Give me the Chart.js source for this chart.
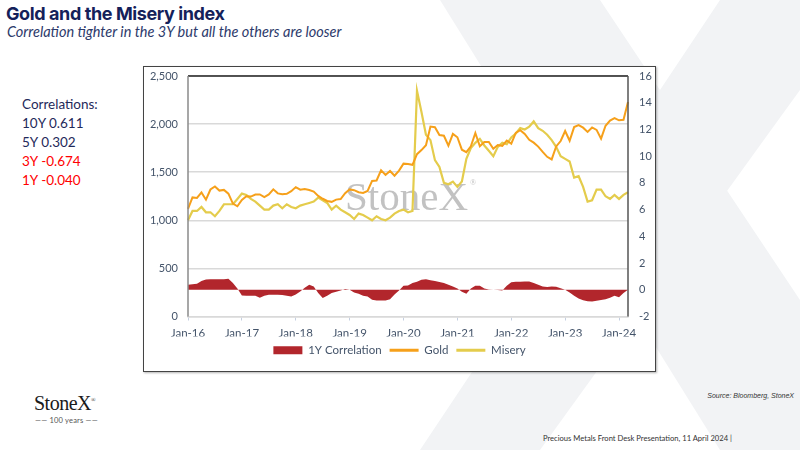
<!DOCTYPE html>
<html>
<head>
<meta charset="utf-8">
<script src="https://cdn.jsdelivr.net/npm/chart.js@4.4.0/dist/chart.umd.min.js"></script>
<title>Gold and the Misery index</title>
<style>
  body { margin: 0; width: 800px; height: 450px; background: #fff; position: relative; overflow: hidden; font-family: Lato, sans-serif; }
  #bg { position: absolute; left: 0; top: 0; }
  .abs { position: absolute; white-space: nowrap; }
  #title { left: 6px; top: 3px; font: bold 18px Inter, sans-serif; color: #14215a; letter-spacing: -0.4px; }
  #sub { left: 7px; top: 23px; font: italic 14.5px Lato, sans-serif; color: #2d3a6b; }
  #corr { left: 22px; top: 95px; font: 13.5px Lato, sans-serif; color: #1f2a5a; line-height: 19px; }
  .red { color: #ff0000; }
  #frame { position: absolute; left: 143px; top: 66px; width: 511px; height: 304px; border: 1.5px solid #444; background: #fff; box-shadow: 1px 1px 2px rgba(0,0,0,0.3); }
  #logo { left: 34px; top: 392px; font: 20px "Liberation Serif", serif; color: #1a1a1a; letter-spacing: -0.5px; }
  #years { left: 35px; top: 416px; font: 7.5px Lato, sans-serif; color: #555; letter-spacing: 0.2px; }
  #src { right: 6px; top: 392px; font: italic 7px "Liberation Sans", sans-serif; color: #333; }
  #foot { left: 543px; top: 433px; font: 7.6px Lato, sans-serif; color: #333; }
</style>
</head>
<body>
<svg id="bg" width="800" height="450">
  <polygon points="440,0 600,0 800,300 800,450 720,450" fill="#f2f3f5"/>
  <polygon points="720,0 800,0 800,90 540,450 420,450" fill="#f2f3f5"/>
</svg>
<div class="abs" id="title">Gold and the Misery index</div>
<div class="abs" id="sub">Correlation tighter in the 3Y but all the others are looser</div>
<div class="abs" id="corr">
  Correlations:<br>
  10Y 0.611<br>
  5Y 0.302<br>
  <span class="red">3Y -0.674</span><br>
  <span class="red">1Y -0.040</span>
</div>
<div id="frame"><canvas id="chart" width="511" height="304"></canvas></div>
<div class="abs" id="logo">StoneX<sup style="font-size:6px">®</sup></div>
<div class="abs" id="years">—— 100 years ——</div>
<div class="abs" id="src">Source: Bloomberg, StoneX</div>
<div class="abs" id="foot">Precious Metals Front Desk Presentation, 11 April 2024 |</div>
<script>
// monthly, Jan-16 .. Mar-24
const years = ['16', '17', '18', '19', '20', '21', '22', '23', '24'];
const monthNames = ['Jan', 'Feb', 'Mar', 'Apr', 'May', 'Jun', 'Jul', 'Aug', 'Sep', 'Oct', 'Nov', 'Dec'];

const gold = [
  1118, 1238, 1233, 1290, 1214, 1320, 1351, 1309, 1316, 1277, 1173, 1146,
  1211, 1249, 1247, 1268, 1269, 1242, 1269, 1322, 1280, 1271, 1275, 1303,
  1345, 1318, 1325, 1315, 1299, 1253, 1224, 1201, 1192, 1215, 1221, 1282,
  1321, 1313, 1292, 1284, 1305, 1409, 1414, 1520, 1472, 1513, 1464, 1517,
  1589, 1585, 1577, 1687, 1730, 1781, 1975, 1968, 1887, 1879, 1776, 1898,
  1863, 1734, 1708, 1769, 1907, 1770, 1814, 1814, 1743, 1783, 1774, 1829,
  1797, 1909, 1937, 1897, 1837, 1807, 1766, 1711, 1660, 1633, 1768, 1824,
  1928, 1827, 1969, 1990, 1963, 1919, 1965, 1940, 1849, 1983, 2036, 2063,
  2039, 2044, 2230
];

const misery = [
  5.2, 5.9, 5.9, 6.2, 5.8, 5.8, 5.5, 5.9, 6.4, 6.4, 6.4, 6.8,
  7.2, 7.1, 6.8, 6.6, 6.3, 6.0, 6.0, 6.3, 6.4, 6.1, 6.4, 6.2,
  6.1, 6.3, 6.4, 6.5, 6.6, 6.9, 6.7, 6.5, 6.0, 6.3, 6.0, 5.8,
  5.6, 5.3, 5.7, 5.6, 5.4, 5.2, 5.5, 5.3, 5.2, 5.4, 5.7, 5.9,
  6.0, 5.8, 5.9, 14.9, 13.3, 11.6, 11.2, 9.7, 9.2, 8.0, 7.9, 8.1,
  7.7, 8.1, 9.8, 10.6, 11.0, 11.3, 10.8, 10.4, 10.0, 10.7, 11.0, 10.9,
  11.4, 11.7, 12.1, 12.0, 12.2, 12.6, 12.1, 11.9, 11.6, 11.2, 10.7, 10.0,
  9.8, 9.6, 8.4, 8.5, 7.7, 6.6, 6.7, 7.5, 7.5, 7.0, 6.8, 7.1,
  6.8, 7.1, 7.3
];

const correlation = [
  0.37, 0.42, 0.45, 0.65, 0.76, 0.79, 0.79, 0.79, 0.79, 0.82, 0.5, 0.1,
  -0.42, -0.45, -0.45, -0.45, -0.6, -0.45, -0.37, -0.37, -0.37, -0.4, -0.45, -0.5,
  -0.35, -0.12, 0.15, 0.37, 0.25, -0.25, -0.62, -0.45, -0.25, -0.15, -0.05, 0.05,
  0.0, -0.2, -0.3, -0.45, -0.5, -0.75, -0.8, -0.8, -0.8, -0.7, -0.35, -0.05,
  0.3, 0.32, 0.5, 0.6, 0.75, 0.79, 0.72, 0.65, 0.58, 0.5, 0.38, 0.25,
  0.1, -0.15, -0.3, 0.1, 0.3, 0.3, 0.1, 0.02, 0.0, -0.02, -0.05, 0.3,
  0.57, 0.6, 0.6, 0.62, 0.62, 0.5, 0.37, 0.25, 0.2, 0.25, 0.22, 0.12,
  0.0, -0.2, -0.45, -0.65, -0.78, -0.85, -0.87, -0.82, -0.76, -0.7, -0.6, -0.45,
  -0.55, -0.25, 0.0
];

const labels = [];
for (let i = 0; i < gold.length; i++) {
  labels.push(monthNames[i % 12] + '-' + years[Math.floor(i / 12)]);
}

const tickColor = '#44546a';
const tickFont = { family: 'Lato', size: 11 };

// frame lines round the plot + the faint StoneX watermark
const plotDecor = {
  id: 'plotDecor',
  beforeDatasetsDraw(chart) {
    const ctx = chart.ctx;
    ctx.save();
    ctx.fillStyle = '#c2c2c2';
    ctx.font = '41px "Liberation Serif", serif';
    ctx.textBaseline = 'alphabetic';
    ctx.fillText('StoneX', 201, 143);
    ctx.font = '8px "Liberation Serif", serif';
    ctx.fillText('®', 326, 118);
    ctx.restore();
  },
  afterDatasetsDraw(chart) {
    const ctx = chart.ctx, a = chart.chartArea;
    ctx.save();
    ctx.lineWidth = 1.5;
    ctx.strokeStyle = '#222';
    ctx.beginPath(); ctx.moveTo(a.left, a.top); ctx.lineTo(a.right, a.top); ctx.stroke();
    ctx.strokeStyle = '#8a8a8a';
    ctx.beginPath(); ctx.moveTo(a.left, a.top); ctx.lineTo(a.left, a.bottom); ctx.stroke();
    ctx.strokeStyle = '#555';
    ctx.beginPath(); ctx.moveTo(a.right, a.top); ctx.lineTo(a.right, a.bottom); ctx.stroke();
    ctx.restore();
  }
};

new Chart(document.getElementById('chart'), {
  type: 'line',
  data: {
    labels: labels,
    datasets: [
      {
        label: '1Y Correlation',
        data: correlation,
        yAxisID: 'y1',
        fill: 'origin',
        backgroundColor: '#b2262c',
        borderColor: '#b2262c',
        borderWidth: 0,
        pointRadius: 0,
        order: 3
      },
      {
        label: 'Gold',
        data: gold,
        yAxisID: 'y',
        borderColor: '#f6a01a',
        backgroundColor: '#f6a01a',
        borderWidth: 2,
        pointRadius: 0,
        order: 1
      },
      {
        label: 'Misery',
        data: misery,
        yAxisID: 'y1',
        borderColor: '#e4cc4c',
        backgroundColor: '#e4cc4c',
        borderWidth: 2.2,
        pointRadius: 0,
        order: 2
      }
    ]
  },
  options: {
    responsive: false,
    animation: false,
    layout: { padding: { top: 9, bottom: 5, left: 0, right: 0 } },
    plugins: {
      tooltip: { enabled: false },
      legend: {
        position: 'bottom',
        labels: {
          color: tickColor,
          font: { family: 'Lato', size: 11.5 },
          padding: 8,
          usePointStyle: true,
          pointStyleWidth: 29,
          boxHeight: 8,
          sort: (a, b) => a.datasetIndex - b.datasetIndex,
          generateLabels(chart) {
            const items = Chart.defaults.plugins.legend.labels.generateLabels(chart);
            items.forEach(it => {
              if (it.datasetIndex === 0) {
                it.pointStyle = 'rect';
                it.lineWidth = 0;
              } else {
                it.pointStyle = 'line';
                it.lineWidth = 3;
              }
            });
            return items;
          }
        }
      }
    },
    scales: {
      x: {
        ticks: {
          autoSkip: false,
          maxRotation: 0,
          color: tickColor,
          font: { family: 'Lato', size: 11.5 },
          padding: 6,
          callback(v, i) { return i % 12 === 0 ? labels[i] : null; }
        },
        grid: { drawOnChartArea: false, drawTicks: true, tickLength: 4, color: '#c5cfe0' },
        border: { color: '#d9d9d9', width: 1.5 },
        afterFit(s) { s.height = 20; }
      },
      y: {
        position: 'left',
        min: 0, max: 2500,
        ticks: {
          stepSize: 500,
          color: tickColor,
          font: tickFont,
          padding: 0,
          callback(v) { return v.toLocaleString('en-US'); }
        },
        grid: { color: '#d9d9d9', lineWidth: 1.5, drawTicks: true, tickLength: 10, tickColor: 'rgba(0,0,0,0)' },
        border: { display: false },
        afterFit(s) { s.width = 44; }
      },
      y1: {
        position: 'right',
        min: -2, max: 16,
        ticks: { stepSize: 2, color: tickColor, font: tickFont, padding: 0 },
        grid: { drawOnChartArea: false, drawTicks: true, tickLength: 11, tickColor: 'rgba(0,0,0,0)' },
        border: { display: false },
        afterFit(s) { s.width = 27; }
      }
    }
  },
  plugins: [plotDecor]
});
</script>
</body>
</html>
